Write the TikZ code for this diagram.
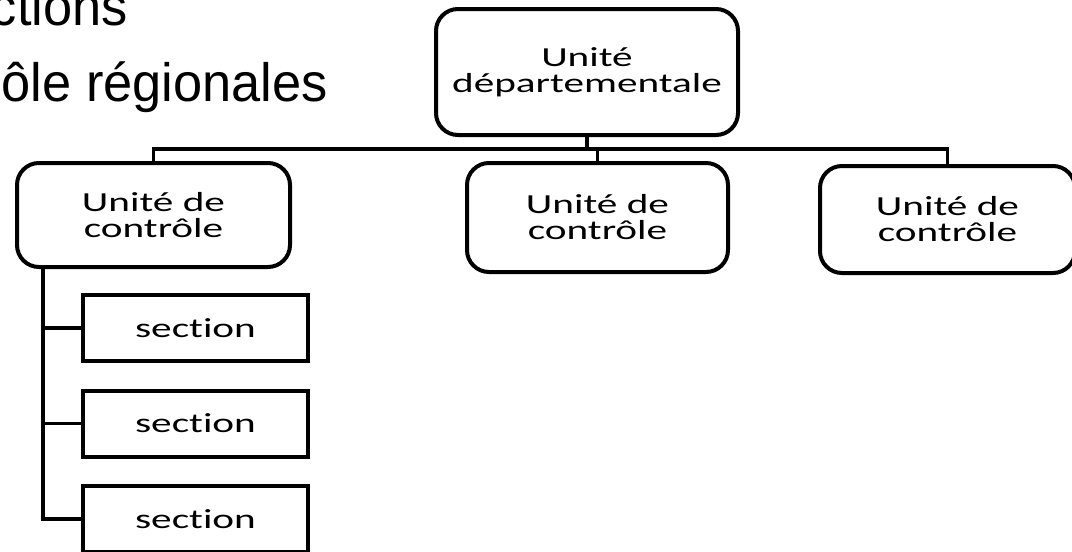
\documentclass[tikz,border=0pt]{standalone}
\usepackage{fontspec}
\newfontfamily\carlito[Ligatures=NoCommon]{Carlito}
\newfontfamily\arialf{Liberation Sans}
\newcommand{\wdtxt}[1]{\scalebox{1.5}[1]{#1}}
\newcommand{\nwtxt}[1]{\scalebox{0.97}[1]{#1}}
\begin{document}
\begin{tikzpicture}[x=1pt,y=-1pt,
  unitbox/.style={draw=black,line width=4pt,rounded corners=22pt,align=center,
    font=\carlito\fontsize{27.5}{26}\selectfont,inner sep=0pt},
  secbox/.style={draw=black,line width=4pt,align=center,
    font=\carlito\fontsize{27.5}{26}\selectfont,inner sep=0pt,
    minimum width=225pt,minimum height=66pt},
  conn/.style={line width=3.5pt,line cap=rect},
  title/.style={font=\arialf\fontsize{54}{60}\selectfont,anchor=base east,inner sep=0pt}]
\useasboundingbox (0,0) rectangle (1072,552);
\clip (0,0) rectangle (1072,552);
% titles (cut at left edge)
\node[title] (t1) at (128,25) {\nwtxt{ctions}};
\node[title] (t2) at (328,101) {\nwtxt{ôle régionales}};
% boxes
\node[unitbox,minimum width=302pt,minimum height=126pt] (top) at (587,72)
  {\wdtxt{Unité}\\\wdtxt{départementale}};
\node[unitbox,minimum width=273pt,minimum height=104pt] (left) at (153.5,215)
  {\wdtxt{Unité de}\\\wdtxt{contrôle}};
\node[unitbox,minimum width=261pt,minimum height=109pt] (mid) at (597.5,217.5)
  {\wdtxt{Unité de}\\\wdtxt{contrôle}};
\node[unitbox,minimum width=255pt,minimum height=107pt] (right) at (947.5,219.5)
  {\wdtxt{Unité de}\\\wdtxt{contrôle}};
\node[secbox] (s1) at (195.5,328) {\wdtxt{section}};
\node[secbox] (s2) at (195.5,423.5) {\wdtxt{section}};
\node[secbox] (s3) at (195.5,519) {\wdtxt{section}};
% connectors
\coordinate (bus) at (0,149);
\coordinate (spine) at (43,0);
\draw[conn] (top.south) -- (top.south |- bus);
\draw[conn] (left.north |- bus) -- (right.north |- bus);
\draw[conn] (left.north |- bus) -- (left.north);
\draw[conn] (mid.north |- bus) -- (mid.north);
\draw[conn] (right.north |- bus) -- (right.north);
\draw[conn] (spine |- left.south) -- (spine |- s3.west) -- (s3.west);
\draw[conn] (spine |- s1.west) -- (s1.west);
\draw[conn] (spine |- s2.west) -- (s2.west);
\end{tikzpicture}
\end{document}
